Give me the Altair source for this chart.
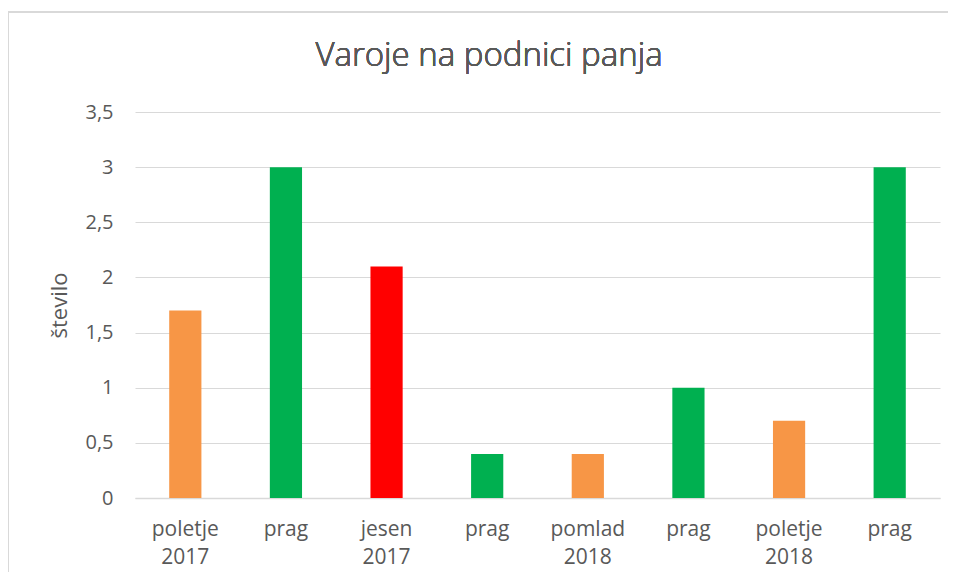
import altair as alt
import pandas as pd

title_text = "Varoje na podnici panja"
labels = ["poletje|2017", "prag", "jesen|2017", "prag", "pomlad|2018", "prag", "poletje|2018", "prag"]
values = [1.7, 3.0, 2.1, 0.4, 0.4, 1.0, 0.7, 3.0]
kinds = ["season", "prag", "high", "prag", "season", "prag", "season", "prag"]
kind_domain = ["season", "prag", "high"]
kind_colors = ["#F79646", "#00B050", "#FF0000"]

df = pd.DataFrame({"idx": list(range(len(values))), "value": values, "kind": kinds})

label_array = "[" + ",".join("'" + l + "'" for l in labels) + "]"

FONT = "Open Sans"
TXT = "#595959"
W, H = 805, 386

bars = alt.Chart(df).mark_bar().encode(
    x=alt.X("idx:O", title=None,
            scale=alt.Scale(paddingInner=0.68, paddingOuter=0.34),
            axis=alt.Axis(labelExpr=f"split({label_array}[datum.value], '|')",
                          labelAngle=0, labelFont=FONT, labelFontSize=21, labelColor=TXT,
                          labelPadding=20, labelLineHeight=28, labelBaseline="top",
                          ticks=False, domainColor="#D9D9D9", domainWidth=1.5, grid=False)),
    y=alt.Y("value:Q", title="število",
            scale=alt.Scale(domain=[0, 3.5], nice=False),
            axis=alt.Axis(values=[0, 0.5, 1, 1.5, 2, 2.5, 3, 3.5],
                          labelExpr="replace(format(datum.value, '~g'), '.', ',')",
                          labelFont=FONT, labelFontSize=20, labelColor=TXT, labelPadding=22,
                          ticks=False, domain=False, gridColor="#D9D9D9", gridWidth=1.2,
                          titleFont=FONT, titleFontSize=22, titleColor=TXT, titleFontWeight="normal",
                          titlePadding=13)),
    color=alt.Color("kind:N", scale=alt.Scale(domain=kind_domain, range=kind_colors), legend=None),
)

frame_left = alt.Chart(df).mark_rule(stroke="#D9D9D9", strokeWidth=1.5).encode(
    x=alt.value(-127), y=alt.value(-100), y2=alt.value(H + 200)
)
frame_top = alt.Chart(df).mark_rule(stroke="#D9D9D9", strokeWidth=1.5).encode(
    x=alt.value(-127), x2=alt.value(W + 8), y=alt.value(-100)
)

title = alt.Chart(df).mark_text(text=title_text, font=FONT, fontSize=33, fontWeight=300,
                                color=TXT, align="center", baseline="alphabetic").encode(
    x=alt.value(354), y=alt.value(-46)
)

chart = alt.layer(frame_left, frame_top, bars, title).properties(
    width=W, height=H,
    background="white",
    autosize=alt.AutoSizeParams(type="none"),
    padding={"left": 127, "top": 104, "right": 8, "bottom": 74},
).configure_view(stroke="transparent", strokeWidth=0)

chart.save("out.html", embed_options={"renderer": "svg", "actions": False})
